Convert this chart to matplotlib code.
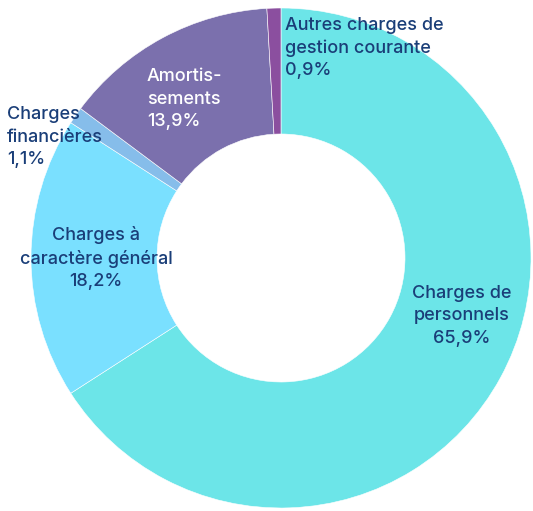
import matplotlib.pyplot as plt

categories = ["Charges de\npersonnels", "Charges à\ncaractère général", "Charges\nfinancières",
              "Amortis-\nsements", "Autres charges de\ngestion courante"]
shares = [65.9, 18.2, 1.1, 13.9, 0.9]
colors = ["#6ce5e8", "#7ae0ff", "#86bdea", "#7b70ad", "#8b4f9f"]

# label placement (pixel coords, y from top), alignment, text colour
label_pos = [(462, 316, "center", "#1a3e78"),
             (96, 258, "center", "#1a3e78"),
             (7, 137, "left", "#1a3e78"),
             (147, 99, "left", "white"),
             (285, 48, "left", "#1a3e78")]

W, H = 533, 511
fig = plt.figure(figsize=(W / 100, H / 100), dpi=100)
ax = fig.add_axes([0, 0, 1, 1])
ax.axis("off")

ax.pie(shares, colors=colors, startangle=90, counterclock=False,
       radius=250, center=(281, H - 258),
       wedgeprops=dict(width=126, edgecolor="white", linewidth=0.4))
ax.set_xlim(0, W)
ax.set_ylim(0, H)
ax.set_aspect("equal")

for cat, val, (x, y, ha, col) in zip(categories, shares, label_pos):
    txt = cat + "\n" + f"{val:.1f}".replace(".", ",") + "%"
    ax.text(x, H - y, txt, ha=ha, va="center", multialignment=ha,
            fontsize=13, color=col, family="Inter", fontweight="medium",
            linespacing=1.4)

fig.savefig("out.png", dpi=100)
